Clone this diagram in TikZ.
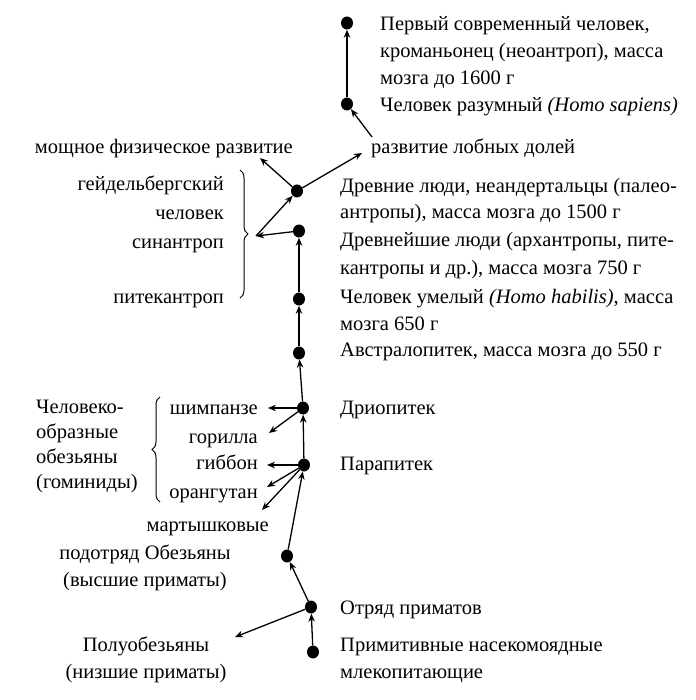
\documentclass[tikz,border=0pt]{standalone}
\usepackage{fontspec}
\setmainfont{Liberation Serif}
\usetikzlibrary{arrows.meta,decorations.pathreplacing,shapes.geometric}
\begin{document}
\begin{tikzpicture}[x=1pt,y=-1pt,
  dot/.style={ellipse,fill=black,inner sep=0pt,minimum width=12pt,minimum height=13pt},
  txt/.style={inner sep=0pt,font=\fontsize{20.5}{27}\selectfont},
  arr/.style={line width=1.3pt,-{Stealth[length=8pt,width=6.5pt]}},
  brc/.style={line width=1pt,decorate,decoration={brace,amplitude=8pt}}]
\useasboundingbox (0,0) rectangle (695,700);
% dots
\node[dot] (d1) at (347,23) {};
\node[dot] (d2) at (347,104) {};
\node[dot] (d3) at (297,191) {};
\node[dot] (d4) at (299,231) {};
\node[dot] (d5) at (299,299) {};
\node[dot] (d6) at (299,353) {};
\node[dot] (d7) at (303,408) {};
\node[dot] (d8) at (304,465) {};
\node[dot] (d9) at (287,556) {};
\node[dot] (d10) at (311,607) {};
\node[dot] (d11) at (313,652) {};
% right texts
\node[txt,anchor=base west,align=left,font=\fontsize{20.5}{27.3}\selectfont] (t1) at (380,112) {Первый современный человек,\\кроманьонец (неоантроп), масса\\мозга до 1600 г\\Человек разумный \textit{(Homo sapiens)}};
\node[txt,anchor=base west] (t2) at (371,154) {развитие лобных долей};
\node[txt,anchor=base east] (t3) at (293,154) {мощное физическое развитие};
\node[txt,anchor=base west,align=left,font=\fontsize{20.5}{26}\selectfont] (t4) at (340,219) {Древние люди, неандертальцы (палео-\\антропы), масса мозга до 1500 г};
\node[txt,anchor=base west,align=left,font=\fontsize{20.5}{27.5}\selectfont] (t5) at (340,274) {Древнейшие люди (архантропы, пите-\\кантропы и др.), масса мозга 750 г};
\node[txt,anchor=base west,align=left] (t6) at (340,330) {Человек умелый \textit{(Homo habilis)}, масса\\мозга 650 г};
\node[txt,anchor=base west] (t7) at (340,356) {Австралопитек, масса мозга до 550 г};
\node[txt,anchor=base west] (t8) at (340,414) {Дриопитек};
\node[txt,anchor=base west] (t9) at (340,470) {Парапитек};
\node[txt,anchor=base west] (t10) at (340,614) {Отряд приматов};
\node[txt,anchor=base west,align=left] (t11) at (340,678) {Примитивные насекомоядные\\млекопитающие};
% left texts
\node[txt,anchor=base east,align=right,font=\fontsize{20.5}{28.5}\selectfont] (l1) at (224,248) {гейдельбергский\\человек\\синантроп};
\node[txt,anchor=base east] (l2) at (224,303) {питекантроп};
\node[txt,anchor=base west,align=left,font=\fontsize{20.5}{24.7}\selectfont] (l3) at (36,488) {Человеко-\\образные\\обезьяны\\(гоминиды)};
\node[txt,anchor=base east] (l4) at (258,414) {шимпанзе};
\node[txt,anchor=base east] (l5) at (258,443) {горилла};
\node[txt,anchor=base east] (l6) at (258,469) {гиббон};
\node[txt,anchor=base east] (l7) at (258,498) {орангутан};
\node[txt,anchor=base east] (l8) at (269,531) {мартышковые};
\node[txt,anchor=base,align=center] (l9) at (145,586) {подотряд Обезьяны\\(высшие приматы)};
\node[txt,anchor=base,align=center] (l10) at (146,678) {Полуобезьяны\\(низшие приматы)};
% braces
\draw[brc] (240,170) -- (240,298);
\coordinate (b1tip) at (256,236);
\draw[brc] (160,502) -- (160,397);
% arrow end coordinates
\coordinate (e2) at (372,137);
\coordinate (e3) at (260,158);
\coordinate (e4) at (362,153);
\coordinate (e5) at (268,408);
\coordinate (e6) at (269,433);
\coordinate (e7) at (267,465);
\coordinate (e8) at (267,487);
\coordinate (e9) at (262,510);
\coordinate (e10) at (235,637);
% arrows
\draw[arr] (d2) -- (d1);
\draw[arr] (e2) -- (d2);
\draw[arr] (d3) -- (e3);
\draw[arr] (d3) -- (e4);
\draw[arr] (b1tip) -- (d3);
\draw[arr] (d4) -- (b1tip);
\draw[arr] (d5) -- (d4);
\draw[arr] (d6) -- (d5);
\draw[arr] (d7) -- (d6);
\draw[arr] (d8) -- (d7);
\draw[arr] (d9) -- (d8);
\draw[arr] (d10) -- (d9);
\draw[arr] (d11) -- (d10);
\draw[arr] (d10) -- (e10);
\draw[arr] (d7) -- (e5);
\draw[arr] (d7) -- (e6);
\draw[arr] (d8) -- (e7);
\draw[arr] (d8) -- (e8);
\draw[arr] (d8) -- (e9);
\end{tikzpicture}
\end{document}
